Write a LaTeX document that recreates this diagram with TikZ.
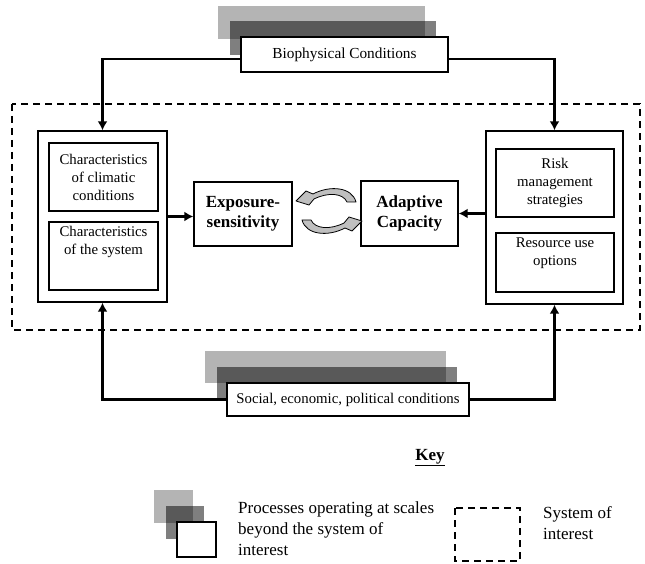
\documentclass[tikz,border=0pt]{standalone}
\usepackage{fontspec}
\setmainfont{Liberation Serif}
\usetikzlibrary{arrows.meta,calc}
\definecolor{shlight}{RGB}{180,180,180}
\tikzset{
  box/.style={draw, line width=1.4pt, fill=white, inner sep=0pt},
  lbl/.style={font=\fontsize{14.8}{18}\selectfont, align=center, inner sep=0pt},
  bigl/.style={font=\fontsize{17}{20}\selectfont\bfseries, align=center, inner sep=0pt},
  keyt/.style={font=\fontsize{17}{21}\selectfont, align=left, inner sep=0pt},
  conn/.style={line width=2.8pt, -{Latex[length=9pt,width=10pt]}},
  shl/.style={fill=shlight, draw=none, inner sep=0pt},
  shd/.style={fill=black, fill opacity=0.5, draw=none, inner sep=0pt},
  dashbox/.style={draw, line width=2.2pt, dash pattern=on 7pt off 5pt},
  cyc/.style={draw, line width=0.8pt, fill=gray!50, line join=round}
}
\begin{document}
\begin{tikzpicture}[x=1pt,y=1pt]
\useasboundingbox[fill=white] (0,0) rectangle (645,-564);

% system of interest
\draw[dashbox] (12,-104) rectangle (640,-330);

% Biophysical conditions
\node[shl, minimum width=207pt, minimum height=33pt] (bioL) at (321.5,-22.5) {};
\node[shd, minimum width=206pt, minimum height=34pt] (bioD) at (333,-38) {};
\node[box, minimum width=207pt, minimum height=35pt, font=\fontsize{15.3}{18}\selectfont] (bio) at (344.5,-54.5) {Biophysical Conditions};

% Social conditions
\node[shl, minimum width=241pt, minimum height=32pt] (socL) at (325.5,-367) {};
\node[shd, minimum width=240pt, minimum height=33pt] (socD) at (337,-383.5) {};
\node[box, minimum width=242pt, minimum height=33pt, font=\fontsize{14.8}{18}\selectfont] (soc) at (348,-399.5) {Social, economic, political conditions};

% left outer box
\node[box, minimum width=129pt, minimum height=171pt] (lo) at (102.5,-216.5) {};
\node[box, minimum width=109pt, minimum height=68pt] (clim) at (103.5,-177) {};
\node[lbl] (climt) at (clim.center) {Characteristics\\of climatic\\conditions};
\node[box, minimum width=109pt, minimum height=68pt] (sys) at (103.5,-256) {};
\node[lbl, anchor=north] (syst) at ([yshift=-5pt]sys.north) {Characteristics\\of the system};

% right outer box
\node[box, minimum width=137pt, minimum height=173pt] (ro) at (554.5,-217.5) {};
\node[box, minimum width=118pt, minimum height=68pt] (risk) at (555,-183) {};
\node[lbl] (riskt) at (risk.center) {Risk\\management\\strategies};
\node[box, minimum width=118pt, minimum height=59pt] (res) at (555,-262.5) {};
\node[lbl, anchor=north] (rest) at ([yshift=-5pt]res.north) {Resource use\\options};

% central boxes
\node[box, minimum width=98pt, minimum height=64pt, bigl] (expo) at (243,-214) {Exposure-\\sensitivity};
\node[box, minimum width=97pt, minimum height=65pt, bigl] (adap) at (409.5,-213.5) {Adaptive\\Capacity};

% connectors
\draw[conn] ([yshift=-4.5pt]bio.west) -| (lo.north);
\draw[conn] ([yshift=-4.5pt]bio.east) -| (ro.north);
\draw[conn] (soc.west) -| (lo.south);
\draw[conn] (soc.east) -| (ro.south);
\draw[conn] (lo.east) -- (lo.east -| expo.west);
\draw[conn] (ro.west |- adap.east) -- (adap.east);

% cycle arrows
\draw[cyc] (356,-202) .. controls (352,-187) and (330,-185) .. (313,-194) -- (306,-191) -- (296,-201) -- (309,-205) -- (314,-199) .. controls (328,-192) and (343,-193) .. (347,-202) -- cycle;
\draw[cyc] (302,-220) .. controls (306,-235) and (328,-237) .. (345,-228) -- (352,-231) -- (362,-221) -- (349,-217) -- (344,-223) .. controls (330,-230) and (315,-229) .. (311,-220) -- cycle;

% key
\node[font=\fontsize{17}{21}\selectfont\bfseries, inner sep=0pt, anchor=base] (key) at (430,-460) {\underline{Key}};
\node[shl, minimum width=39pt, minimum height=33pt] (kL) at (173.5,-506.5) {};
\node[shd, minimum width=38pt, minimum height=33pt] (kD) at (185,-522.5) {};
\node[box, minimum width=39pt, minimum height=35pt] (kW) at (196.5,-539.5) {};
\node[keyt, anchor=north west] (kt1) at (238,-501.5) {Processes operating at scales\\beyond the system of\\interest};
\draw[dashbox] (455,-508) rectangle (520,-561);
\node[keyt, anchor=north west] (kt2) at (543,-506) {System of\\interest};
\end{tikzpicture}
\end{document}
